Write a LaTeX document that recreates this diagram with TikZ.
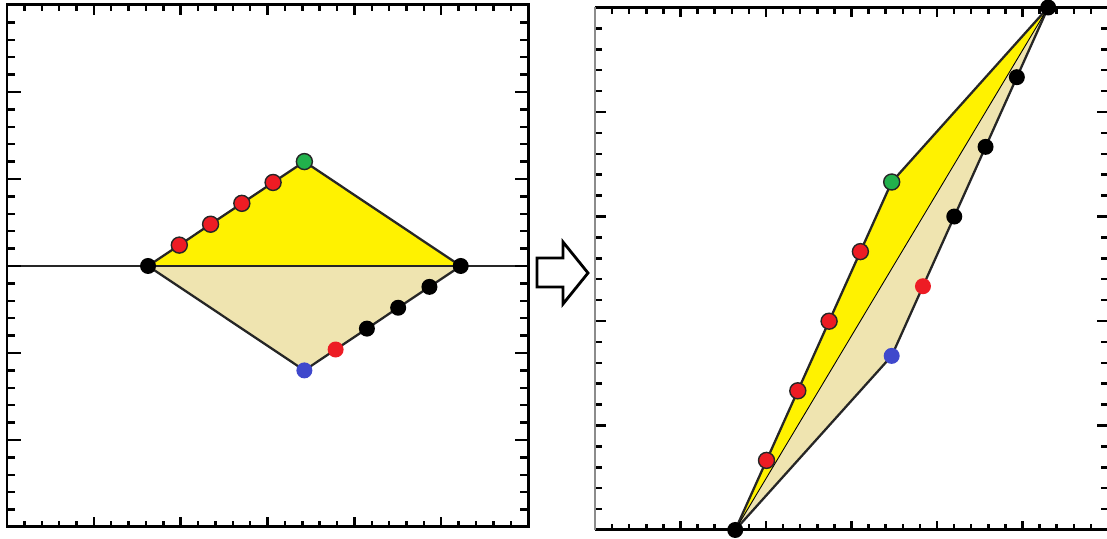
\documentclass[tikz,border=0pt]{standalone}
\usetikzlibrary{calc}
\definecolor{paintyellow}{HTML}{FFF200}
\definecolor{paintbeige}{HTML}{EFE4B0}
\definecolor{paintred}{HTML}{ED1C24}
\definecolor{paintgreen}{HTML}{22B14C}
\definecolor{paintblue}{HTML}{3F48CC}
\begin{document}
\begin{tikzpicture}[
    dot/.style={circle, inner sep=0pt, minimum size=0.32cm},
    ringdot/.style={dot, draw=black!85, line width=0.8pt},
    edge/.style={line width=1.3pt, black!85},
    frame/.style={line width=1.7pt},
    tick/.style={line width=1.4pt}]
  \useasboundingbox (0,0) rectangle (22.14,10.78);
  % before
  \begin{scope}[shift={(0.14cm,0.24cm)}, x=0.3474cm, y=0.348cm]
    \coordinate (axL) at (0,15);
    \coordinate (axR) at (30,15);
    \coordinate (lA) at (8.12,15);
    \coordinate (lB) at (26.12,15);
    \coordinate (lT) at (17.12,21);
    \coordinate (lD) at (17.12,9);
    \fill[paintyellow] (lA) -- (lT) -- (lB) -- cycle;
    \fill[paintbeige] (lA) -- (lD) -- (lB) -- cycle;
    \draw[edge] (lA) -- (lT) -- (lB);
    \draw[edge] (lA) -- (lD) -- (lB);
    \draw[edge] (axL) -- (axR);
    \foreach \i in {1,...,29}{
      \pgfmathsetmacro\tl{mod(\i,5)==0 ? 0.55 : 0.32}
      \pgfmathsetmacro\sl{mod(\i,5)==0 ? 0.78 : 0.48}
      \draw[tick] (\i,0) -- ++(0,\tl) (\i,30) -- ++(0,-\tl);
      \draw[tick] (0,\i) -- ++(\sl,0) (30,\i) -- ++(-\sl,0);
    }
    \draw[frame] (0,0) rectangle (30,30);
    \foreach \f in {1,...,4}
      \node[ringdot, fill=paintred] (lup\f) at ($(lA)!\f/5!(lT)$) {};
    \foreach \f/\c in {1/paintred, 2/black, 3/black, 4/black}
      \node[dot, fill=\c] (llo\f) at ($(lD)!\f/5!(lB)$) {};
    \node[dot, fill=black] (lAdot) at (lA) {};
    \node[dot, fill=black] (lBdot) at (lB) {};
    \node[ringdot, fill=paintgreen] (lTdot) at (lT) {};
    \node[dot, fill=paintblue] (lDdot) at (lD) {};
  \end{scope}
  % arrow
  \draw[line width=1.6pt, line join=miter] (10.74,5.62) -- (11.26,5.62) -- (11.26,5.94)
    -- (11.76,5.32) -- (11.26,4.70) -- (11.26,5.04) -- (10.74,5.04) -- cycle;
  % after
  \begin{scope}[shift={(11.9cm,0.18cm)}, x=0.342cm, y=0.418cm]
    \coordinate (rA) at (8.2,0);
    \coordinate (rB) at (26.5,25);
    \coordinate (rT) at (17.35,16.65);
    \coordinate (rD) at (17.35,8.33);
    \fill[paintyellow] (rA) -- (rT) -- (rB) -- cycle;
    \fill[paintbeige] (rA) -- (rD) -- (rB) -- cycle;
    \draw[edge] (rA) -- (rT) -- (rB);
    \draw[edge] (rA) -- (rD) -- (rB);
    \draw[line width=0.5pt] (rA) -- (rB);
    \foreach \i in {1,...,29}{
      \pgfmathsetmacro\tl{mod(\i,5)==0 ? 0.45 : 0.3}
      \draw[tick] (\i,0) -- ++(0,\tl) (\i,25) -- ++(0,-\tl);
    }
    \foreach \i in {1,...,24}{
      \pgfmathsetmacro\sl{mod(\i,5)==0 ? 0.66 : 0.43}
      \draw[tick] (0,\i) -- ++(\sl,0) (30,\i) -- ++(-\sl,0);
    }
    \draw[frame] (0,25) -- (30,25) -- (30,0) -- (0,0);
    \draw[line width=1pt, black!45] (0,0) -- (0,25);
    \foreach \f in {1,...,4}
      \node[ringdot, fill=paintred] (rup\f) at ($(rA)!\f/5!(rT)$) {};
    \foreach \f/\c in {1/paintred, 2/black, 3/black, 4/black}
      \node[dot, fill=\c] (rlo\f) at ($(rD)!\f/5!(rB)$) {};
    \node[dot, fill=black] (rAdot) at (rA) {};
    \node[dot, fill=black] (rBdot) at (rB) {};
    \node[ringdot, fill=paintgreen] (rTdot) at (rT) {};
    \node[dot, fill=paintblue] (rDdot) at (rD) {};
  \end{scope}
\end{tikzpicture}
\end{document}
